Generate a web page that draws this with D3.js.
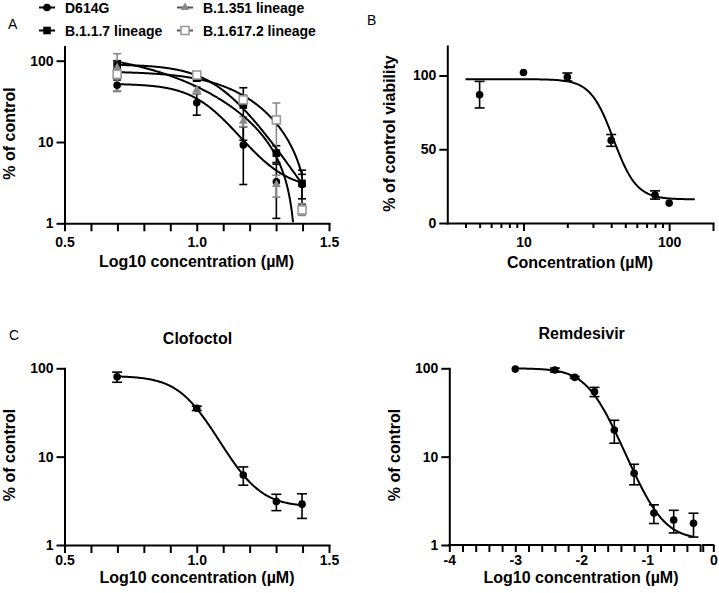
<!DOCTYPE html>
<html><head><meta charset="utf-8">
<script src="https://cdn.jsdelivr.net/npm/d3@7"></script>
<style>
body{margin:0;background:#fff;}
text{font-family:"Liberation Sans",Arial,Helvetica,sans-serif;}
</style></head><body>
<svg id="chart" width="719" height="593"></svg>
<script>
// ---------- DATA ----------
// Panel A: variants, log10 concentration (µM)
const panelA_logConc = [0.699, 1.0, 1.176, 1.301, 1.398];
const panelA_series = ["D614G", "B.1.1.7 lineage", "B.1.351 lineage", "B.1.617.2 lineage"];
const d614g_mean  = [50, 30.4, 9.2, 3.25, 3.0];
const d614g_err   = [8, 9, 6.2, 2.1, 1.0];
const b117_mean   = [88, 61, 28.5, 7.3, 3.1];
const b117_err    = [12, 5, 18, 1.7, 1.4];
const b1351_mean  = [82, 43.6, 18.0, 3.0, 1.5];
const b1351_err   = [40, 4.5, 2.5, 0.9, 0.25];
const b16172_mean = [68, 66.7, 33, 18.7, 1.46];
const b16172_err  = [8, 3, 5, 11.5, 0.2];
// fitted four-parameter curves (top, bottom, logEC50, hill) per variant
const panelA_fitTop     = [52, 90, 140, 74];
const panelA_fitBottom  = [2.6, 0, -20, -15];
const panelA_fitLogEC50 = [1.045, 1.092, 0.930, 1.223];
const panelA_fitHill    = [5.5, 4.75, 1.89, 3.25];
const panelA_xTicks = [0.5, 0.6, 0.7, 0.8, 0.9, 1.0, 1.1, 1.2, 1.3, 1.4, 1.5];
const panelA_xLabels = [0.5, 1.0, 1.5];
const logYTicks = [1, 10, 100];

// Panel B: viability
const viabilityConc = [5, 10, 20, 40, 80, 100];
const viabilityMean = [87, 102, 99, 56, 19, 13.5];
const viabilityErr  = [9, 0, 2.7, 4, 2.8, 0];
const viabilityFit  = {top: 97.5, bottom: 16, ec50: 41.5, hill: 5.5};
const panelB_yTicks = [0, 50, 100];
const panelB_xMajor = [10, 100];
const panelB_xMinor = [4, 5, 6, 7, 8, 9, 20, 30, 40, 50, 60, 70, 80, 90, 200];

// Panel C: clofoctol
const clofoctolLogConc = [0.699, 1.0, 1.176, 1.301, 1.398];
const clofoctolMean = [80, 35.3, 6.2, 3.1, 2.9];
const clofoctolErr  = [10.5, 2, 1.45, 0.65, 0.9];
const clofoctolFit  = {top: 82, bottom: 2.7, logEC50: 0.9755, hill: 6.66};

// Panel C: remdesivir
const remLogConc = [-3, -2.4, -2.1, -1.8, -1.5, -1.2, -0.9, -0.6, -0.3];
const remMean = [98, 95.6, 79, 54.3, 20, 6.5, 2.3, 1.92, 1.76];
const remErr  = [0, 5, 2, 6.5, 5.8, 1.7, 0.55, 0.55, 0.53];
const remFit  = {top: 100, bottom: 1.15, logEC50: -1.809, hill: 2.02};
const rem_xLabels = [-4, -3, -2, -1, 0];

// ---------- STYLE ----------
const FONT = '"Liberation Sans",Arial,Helvetica,sans-serif';
const seriesSymbols = ["circle", "square", "triangle", "openSquare"];
const seriesColors = ["#000", "#000", "#8a8a8a", "#9a9a9a"];

const svg = d3.select("#chart");

function logistic(x, top, bottom, c, h) {
  return bottom + (top - bottom) / (1 + Math.pow(10, (x - c) * h));
}

function styleAxis(g) {
  g.attr("font-family", FONT).attr("font-size", 14).attr("font-weight", "bold");
  g.selectAll("path.domain").attr("stroke", "#000").attr("stroke-width", 2).attr("stroke-linecap", "square");
  g.selectAll(".tick line").attr("stroke", "#000").attr("stroke-width", 2);
  g.selectAll(".tick text").attr("fill", "#000");
}

function drawMarker(g, type, cx, cy, color) {
  if (type === "circle") {
    g.append("circle").attr("cx", cx).attr("cy", cy).attr("r", 3.8).attr("fill", color);
  } else if (type === "square") {
    g.append("rect").attr("x", cx - 3.8).attr("y", cy - 3.8).attr("width", 7.6).attr("height", 7.6).attr("fill", color);
  } else if (type === "triangle") {
    g.append("path").attr("d", d3.symbol(d3.symbolTriangle, 34)()).attr("transform", `translate(${cx},${cy})`).attr("fill", color);
  } else {
    g.append("rect").attr("x", cx - 4).attr("y", cy - 4).attr("width", 8).attr("height", 8)
      .attr("fill", "#fff").attr("stroke", color).attr("stroke-width", 1.6);
  }
}

function errorBar(g, x, y, lo, hi, color, cap) {
  g.append("line").attr("x1", x).attr("x2", x).attr("y1", y(lo)).attr("y2", y(hi))
    .attr("stroke", color).attr("stroke-width", 1.6);
  [lo, hi].forEach(v => g.append("line").attr("x1", x - cap).attr("x2", x + cap).attr("y1", y(v)).attr("y2", y(v))
    .attr("stroke", color).attr("stroke-width", 1.6));
}

function yTitle(text, x, y) {
  svg.append("text").attr("transform", `translate(${x},${y}) rotate(-90)`).attr("text-anchor", "middle")
    .attr("font-size", 16).attr("font-weight", "bold").attr("font-family", FONT).text(text);
}
function xTitle(text, x, y) {
  svg.append("text").attr("x", x).attr("y", y).attr("text-anchor", "middle")
    .attr("font-size", 16).attr("font-weight", "bold").attr("font-family", FONT).text(text);
}
function panelLetter(t, x, y) {
  svg.append("text").attr("x", x).attr("y", y).attr("font-size", 14).attr("font-family", FONT).text(t);
}

// ---------- PANEL A ----------
const xA = d3.scaleLinear().domain([0.5, 1.5]).range([64.5, 329]);
const yA = d3.scaleLog().domain([1, 150]).range([223.3, 46.4]);
const gA = svg.append("g");

const gAxA = gA.append("g").attr("transform", `translate(0,${yA(1)})`)
  .call(d3.axisBottom(xA).tickValues(panelA_xTicks).tickSize(8).tickSizeOuter(0).tickPadding(6)
    .tickFormat(d => panelA_xLabels.some(v => Math.abs(v - d) < 1e-9) ? d3.format(".1f")(d) : ""));
styleAxis(gAxA);
const gAyA = gA.append("g").attr("transform", `translate(${xA(0.5)},0)`)
  .call(d3.axisLeft(yA).tickValues(logYTicks).tickSize(8).tickSizeOuter(0).tickPadding(3).tickFormat(d3.format("d")));
styleAxis(gAyA);

svg.append("defs").append("clipPath").attr("id", "clipA").append("rect")
  .attr("x", xA(0.5)).attr("y", 0).attr("width", xA(1.5) - xA(0.5)).attr("height", yA(1) - 1);

const seriesMeans = [d614g_mean, b117_mean, b1351_mean, b16172_mean];
const seriesErrs = [d614g_err, b117_err, b1351_err, b16172_err];
const plotA = gA.append("g");
// error bars
seriesMeans.forEach((means, s) => {
  means.forEach((m, i) => {
    const lo = Math.max(1, m - seriesErrs[s][i]), hi = m + seriesErrs[s][i];
    errorBar(plotA, xA(panelA_logConc[i]), yA, lo, hi, seriesColors[s] === "#000" ? "#000" : "#8a8a8a", 4);
  });
});
// curves
const curveLine = (xs, ys) => d3.line().x(d => xs(d[0])).y(d => ys(d[1]));
panelA_series.forEach((name, s) => {
  const xs = d3.range(0, 201).map(i => panelA_logConc[0] + (panelA_logConc[4] - panelA_logConc[0]) * i / 200);
  const pts = xs.map(x => [x, logistic(x, panelA_fitTop[s], panelA_fitBottom[s], panelA_fitLogEC50[s], panelA_fitHill[s])])
    .filter(p => p[1] > 0.5);
  plotA.append("path").attr("clip-path", "url(#clipA)").attr("d", curveLine(xA, yA)(pts))
    .attr("fill", "none").attr("stroke", "#000").attr("stroke-width", 2);
});
// markers
seriesMeans.forEach((means, s) => {
  means.forEach((m, i) => drawMarker(plotA, seriesSymbols[s], xA(panelA_logConc[i]), yA(m), seriesColors[s]));
});

// legend
const legendPos = [[39, 7.5], [39, 30.5], [177, 7.5], [177, 30.5]];
panelA_series.forEach((name, s) => {
  const [lx, ly] = legendPos[s];
  const lg = svg.append("g");
  lg.append("line").attr("x1", lx).attr("x2", lx + 16).attr("y1", ly).attr("y2", ly)
    .attr("stroke", s < 2 ? "#000" : "#555").attr("stroke-width", 2);
  drawMarker(lg, seriesSymbols[s], lx + 8, ly, seriesColors[s]);
  lg.append("text").attr("x", lx + 26).attr("y", ly + 5).attr("font-size", 14).attr("font-weight", "bold")
    .attr("font-family", FONT).text(name);
});

panelLetter("A", 8, 28.5);
yTitle("% of control", 15, 133.5);
xTitle("Log10 concentration (\u00b5M)", 196.5, 266.5);

// ---------- PANEL B ----------
const xB = d3.scaleLog().domain([3, 200]).range([447.3, 713]);
const yB = d3.scaleLinear().domain([0, 120]).range([223, 46]);
const gB = svg.append("g");
const gBx = gB.append("g").attr("transform", `translate(0,${yB(0)})`)
  .call(d3.axisBottom(xB).tickValues(panelB_xMajor.concat(panelB_xMinor)).tickSize(8).tickSizeOuter(0).tickPadding(6)
    .tickFormat(d => panelB_xMajor.includes(d) ? d3.format("d")(d) : ""));
styleAxis(gBx);
gBx.selectAll(".tick").filter(d => !panelB_xMajor.includes(d) && d !== 200).select("line").attr("y2", 5);
const gBy = gB.append("g").attr("transform", `translate(${xB(3)},0)`)
  .call(d3.axisLeft(yB).tickValues(panelB_yTicks).tickSize(8).tickSizeOuter(0).tickPadding(3));
styleAxis(gBy);

viabilityConc.forEach((c, i) => {
  if (viabilityErr[i] > 0) errorBar(gB, xB(c), yB, viabilityMean[i] - viabilityErr[i], viabilityMean[i] + viabilityErr[i], "#000", 5);
});
const bxs = d3.range(0, 201).map(i => Math.pow(10, Math.log10(4) + (Math.log10(150) - Math.log10(4)) * i / 200));
const bpts = bxs.map(x => [x, logistic(Math.log10(x), viabilityFit.top, viabilityFit.bottom, Math.log10(viabilityFit.ec50), viabilityFit.hill)]);
gB.append("path").attr("d", curveLine(xB, yB)(bpts)).attr("fill", "none").attr("stroke", "#000").attr("stroke-width", 2);
viabilityConc.forEach((c, i) => drawMarker(gB, "circle", xB(c), yB(viabilityMean[i]), "#000"));

panelLetter("B", 367, 25);
yTitle("% of control viability", 395, 133.5);
xTitle("Concentration (\u00b5M)", 580, 268);

// ---------- PANEL C: CLOFOCTOL ----------
const xC = d3.scaleLinear().domain([0.5, 1.5]).range([64.5, 329]);
const yC = d3.scaleLog().domain([1, 100]).range([545, 368.3]);
const gC = svg.append("g");
const gCx = gC.append("g").attr("transform", `translate(0,${yC(1)})`)
  .call(d3.axisBottom(xC).tickValues(panelA_xTicks).tickSize(8).tickSizeOuter(0).tickPadding(2)
    .tickFormat(d => panelA_xLabels.some(v => Math.abs(v - d) < 1e-9) ? d3.format(".1f")(d) : ""));
styleAxis(gCx);
const gCy = gC.append("g").attr("transform", `translate(${xC(0.5)},0)`)
  .call(d3.axisLeft(yC).tickValues(logYTicks).tickSize(8).tickSizeOuter(0).tickPadding(3).tickFormat(d3.format("d")));
styleAxis(gCy);
clofoctolLogConc.forEach((x, i) => errorBar(gC, xC(x), yC, clofoctolMean[i] - clofoctolErr[i], clofoctolMean[i] + clofoctolErr[i], "#000", 5));
const cxs = d3.range(0, 201).map(i => clofoctolLogConc[0] + (clofoctolLogConc[4] - clofoctolLogConc[0]) * i / 200);
const cpts = cxs.map(x => [x, logistic(x, clofoctolFit.top, clofoctolFit.bottom, clofoctolFit.logEC50, clofoctolFit.hill)]);
gC.append("path").attr("d", curveLine(xC, yC)(cpts)).attr("fill", "none").attr("stroke", "#000").attr("stroke-width", 2);
clofoctolLogConc.forEach((x, i) => drawMarker(gC, "circle", xC(x), yC(clofoctolMean[i]), "#000"));

panelLetter("C", 9, 340);
svg.append("text").attr("x", 197.5).attr("y", 344).attr("text-anchor", "middle").attr("font-size", 16)
  .attr("font-weight", "bold").attr("font-family", FONT).text("Clofoctol");
yTitle("% of control", 15, 455);
xTitle("Log10 concentration (\u00b5M)", 197, 583);

// ---------- PANEL C: REMDESIVIR ----------
const xR = d3.scaleLinear().domain([-4, 0]).range([449.3, 713.3]);
const yR = d3.scaleLog().domain([1, 100]).range([545, 368.3]);
const gR = svg.append("g");
const remTicks = d3.range(0, 20).map(i => -4 + i * 0.2);
const gRx = gR.append("g").attr("transform", `translate(0,${yR(1)})`)
  .call(d3.axisBottom(xR).tickValues(remTicks.concat([-0.16, 0])).tickSize(7).tickSizeOuter(0).tickPadding(3)
    .tickFormat(d => rem_xLabels.some(v => Math.abs(v - d) < 1e-9) ? String(Math.round(d)) : ""));
styleAxis(gRx);
gRx.select("path.domain").remove();
[[-4, -0.2], [-0.16, 0]].forEach(([a, b]) => gRx.append("line").attr("x1", xR(a)).attr("x2", xR(b)).attr("y1", 0).attr("y2", 0)
  .attr("stroke", "#000").attr("stroke-width", 2).attr("stroke-linecap", "square"));
const gRy = gR.append("g").attr("transform", `translate(${xR(-4)},0)`)
  .call(d3.axisLeft(yR).tickValues(logYTicks).tickSize(8).tickSizeOuter(0).tickPadding(3).tickFormat(d3.format("d")));
styleAxis(gRy);
remLogConc.forEach((x, i) => {
  if (remErr[i] > 0) errorBar(gR, xR(x), yR, remMean[i] - remErr[i], remMean[i] + remErr[i], "#000", 5);
});
const rxs = d3.range(0, 201).map(i => remLogConc[0] + (remLogConc[8] - remLogConc[0]) * i / 200);
const rpts = rxs.map(x => [x, logistic(x, remFit.top, remFit.bottom, remFit.logEC50, remFit.hill)]);
gR.append("path").attr("d", curveLine(xR, yR)(rpts)).attr("fill", "none").attr("stroke", "#000").attr("stroke-width", 2);
remLogConc.forEach((x, i) => drawMarker(gR, "circle", xR(x), yR(remMean[i]), "#000"));

svg.append("text").attr("x", 581.7).attr("y", 339).attr("text-anchor", "middle").attr("font-size", 16)
  .attr("font-weight", "bold").attr("font-family", FONT).text("Remdesivir");
yTitle("% of control", 400, 455);
xTitle("Log10 concentration (\u00b5M)", 581, 583);
</script>
</body></html>
